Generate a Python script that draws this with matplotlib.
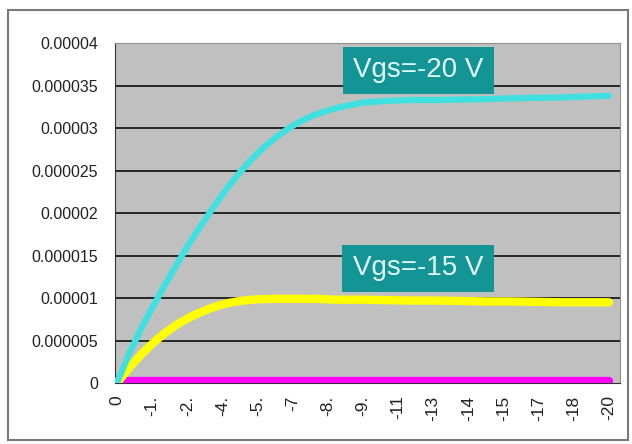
import matplotlib
matplotlib.use("Agg")
import matplotlib.pyplot as plt
from matplotlib.patches import Rectangle

# drain voltage (magnitude, plotted left to right)
vds = [0, 0.5, 1, 1.5, 2, 2.5, 3, 3.5, 4, 4.5, 5, 5.5, 6, 6.5, 7, 7.5,
       8, 8.5, 9, 10, 11, 12, 13, 14, 15, 16, 17, 18, 19, 20]

# drain current, in units of 1e-6 A
id_vgs20 = [0, 3.5, 6.5, 9.2, 11.8, 14.3, 16.7, 18.9, 21.0, 23.0, 24.8, 26.4,
            27.8, 29.0, 30.0, 30.85, 31.5, 32.0, 32.4, 33.0, 33.2, 33.3, 33.3,
            33.35, 33.4, 33.5, 33.55, 33.6, 33.7, 33.8]
id_vgs15 = [0, 1.8, 3.4, 4.8, 6.0, 7.0, 7.8, 8.45, 9.0, 9.4, 9.65, 9.8, 9.88,
            9.9, 9.9, 9.9, 9.9, 9.85, 9.8, 9.8, 9.75, 9.7, 9.7, 9.65, 9.6,
            9.6, 9.55, 9.5, 9.5, 9.5]
id_vgs10 = [0.2] * len(vds)
id_vgs0 = [0.0] * len(vds)

tick_pos = [20 / 14 * i for i in range(15)]
tick_labels = ['0', '-1.', '-2.', '-4.', '-5.', '-7', '-8.', '-9.', '-11',
               '-13', '-14', '-15', '-17', '-18', '-20']
y_ticks = [0, 5e-6, 1e-5, 1.5e-5, 2e-5, 2.5e-5, 3e-5, 3.5e-5, 4e-5]
y_labels = ['0', '0.000005', '0.00001', '0.000015', '0.00002', '0.000025',
            '0.00003', '0.000035', '0.00004']

plt.rcParams['font.family'] = ['Liberation Sans', 'DejaVu Sans']

fig = plt.figure(figsize=(6.32, 4.44), dpi=100)
fig.patch.set_facecolor('white')
# outer chart frame
fig.patches.append(Rectangle((8 / 632, 4 / 444), 620 / 632, 430 / 444,
                             transform=fig.transFigure, fill=False,
                             edgecolor='#7a7a7a', linewidth=1.5))

ax = fig.add_axes([0.182, 0.1374, 0.799, 0.7656])
ax.set_facecolor('#c0c0c0')

for y in y_ticks[1:]:
    ax.axhline(y, color='#1a1a1a', linewidth=1.3, zorder=1)

s = 1e-6
style = dict(solid_joinstyle='round', solid_capstyle='round', zorder=3)
ax.plot(vds, [v * s for v in id_vgs0], color='#2020a0', linewidth=2, zorder=2)
ax.plot(vds, [v * s for v in id_vgs10], color='#ff00ff', linewidth=6, **style)
ax.plot(vds, [v * s for v in id_vgs15], color='#ffff00', linewidth=6, **style)
ax.plot(vds, [v * s for v in id_vgs20], color='#40e0e0', linewidth=4.5, **style)

ax.set_xlim(-0.08, 20.45)
ax.set_ylim(0, 4e-5)
ax.set_yticks(y_ticks)
ax.set_yticklabels(y_labels, fontsize=11.5)
ax.set_xticks(tick_pos)
ax.set_xticklabels(tick_labels, rotation=90, fontsize=12.5)
ax.tick_params(axis='y', length=0, pad=12, colors='#222222')
ax.tick_params(axis='x', length=0, pad=9, colors='#222222')

for side in ['top', 'right']:
    ax.spines[side].set_color('#909090')
ax.spines['left'].set_color('#333333')
ax.spines['bottom'].set_color('#333333')

box = dict(boxstyle='square,pad=0.38', facecolor='#149494', edgecolor='none')
ax.text(12.25, 3.68e-5, 'Vgs=-20 V', fontsize=20, color='#e0fafa',
        ha='center', va='center', bbox=box, zorder=5)
ax.text(12.25, 1.35e-5, 'Vgs=-15 V', fontsize=20, color='#e0fafa',
        ha='center', va='center', bbox=box, zorder=5)

fig.savefig('out.png', dpi=100)
